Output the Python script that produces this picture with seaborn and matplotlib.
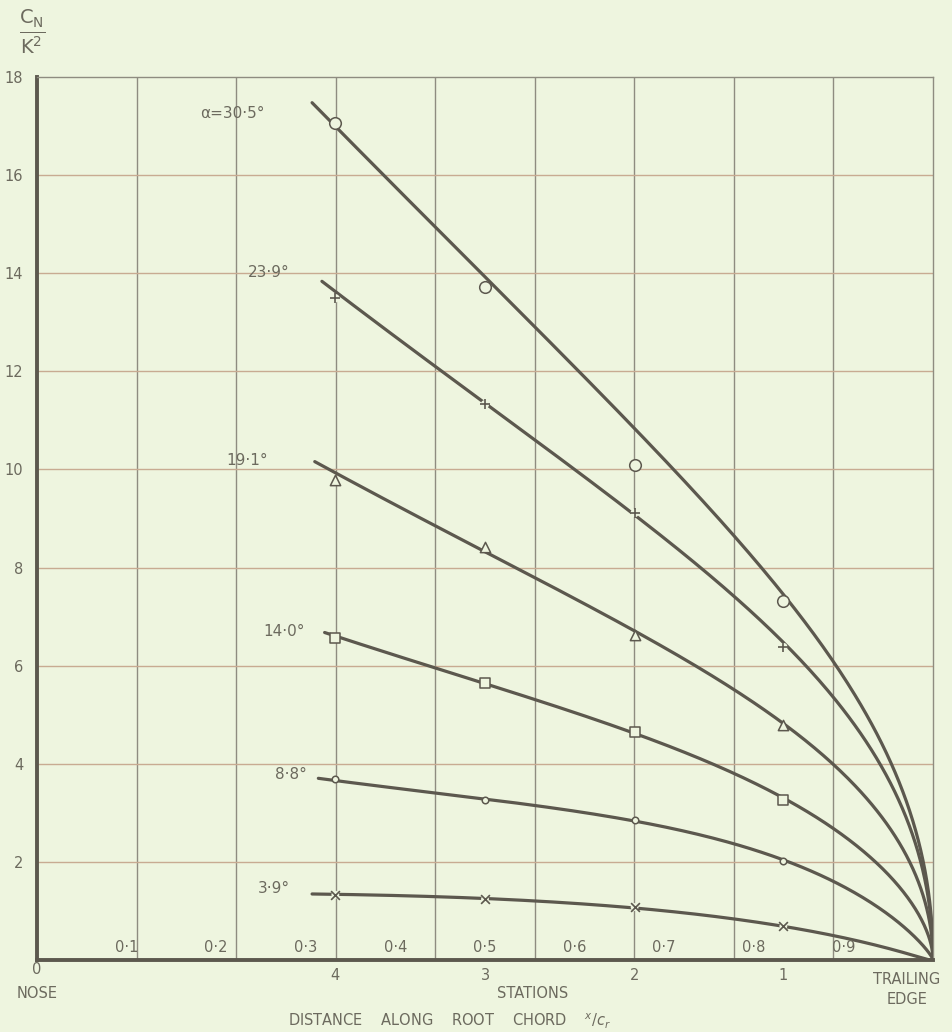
import numpy as np
import pandas as pd
import matplotlib
matplotlib.use("Agg")
import matplotlib.pyplot as plt
import seaborn as sns

# ---- data -------------------------------------------------------------
# chordwise stations (x / c_r) at which pressures were measured
station_xc = [0.333, 0.5, 0.667, 0.833]
station_labels = ["4", "3", "2", "1"]

# chord fraction labels written along the base of the grid
chord_ticks = [0.1, 0.2, 0.3, 0.4, 0.5, 0.6, 0.7, 0.8, 0.9]
chord_tick_labels = ["0·1", "0·2", "0·3", "0·4", "0·5", "0·6", "0·7", "0·8", "0·9"]

y_ticks = [2, 4, 6, 8, 10, 12, 14, 16, 18]

incidence_labels = ["α=30·5°", "23·9°", "19·1°", "14·0°", "8·8°", "3·9°"]

# measured C_N / K^2 at stations 4, 3, 2, 1
cn_30_5 = [17.06, 13.72, 10.09, 7.32]
cn_23_9 = [13.49, 11.33, 9.11, 6.38]
cn_19_1 = [9.78, 8.42, 6.62, 4.79]
cn_14_0 = [6.56, 5.64, 4.65, 3.27]
cn_8_8 = [3.69, 3.26, 2.85, 2.02]
cn_3_9 = [1.33, 1.24, 1.08, 0.69]

# faired curves, read along the chord out to the trailing edge
fair_30_5_x = [0.307, 0.500, 0.561, 0.662, 0.779, 0.834, 0.892, 0.950, 1.0]
fair_30_5_y = [17.49, 13.85, 12.84, 11.00, 8.62, 7.34, 6.05, 4.14, 0.0]
fair_23_9_x = [0.318, 0.500, 0.667, 0.835, 0.911, 0.950, 1.0]
fair_23_9_y = [13.84, 11.33, 9.11, 6.38, 4.89, 3.67, 0.0]
fair_19_1_x = [0.310, 0.500, 0.561, 0.670, 0.835, 0.892, 0.950, 1.0]
fair_19_1_y = [10.15, 8.38, 7.70, 6.66, 4.79, 3.97, 2.71, 0.0]
fair_14_0_x = [0.321, 0.500, 0.561, 0.668, 0.835, 0.892, 0.950, 1.0]
fair_14_0_y = [6.68, 5.64, 5.24, 4.65, 3.30, 2.59, 1.77, 0.0]
fair_8_8_x = [0.314, 0.500, 0.628, 0.670, 0.837, 0.892, 0.950, 1.0]
fair_8_8_y = [3.71, 3.26, 2.95, 2.85, 2.04, 1.51, 0.96, 0.0]
fair_3_9_x = [0.307, 0.498, 0.665, 0.835, 0.893, 0.949, 1.0]
fair_3_9_y = [1.35, 1.24, 1.08, 0.69, 0.45, 0.26, 0.0]

# where each incidence is written (x / c_r, C_N / K^2), right-aligned
label_x = [0.254, 0.282, 0.258, 0.299, 0.301, 0.282]
label_y = [17.26, 14.02, 10.19, 6.70, 3.79, 1.45]

# ---- style ------------------------------------------------------------
BG = "#eef5df"
INK = "#5c584e"
TEXT = "#6c6a5e"
VGRID = "#8e8c80"
HGRID = "#c8ab92"

sns.set_theme(style="white", rc={"axes.facecolor": BG, "figure.facecolor": BG})
plt.rcParams["font.family"] = ["DejaVu Sans"]

fig = plt.figure(figsize=(9.52, 10.32), dpi=100)
W, H = 952, 1032
x0, x1, y0, y1 = 37, 933, 960, 77
ax = fig.add_axes([x0 / W, 1 - y0 / H, (x1 - x0) / W, (y0 - y1) / H])
ax.set_xlim(0, 1)
ax.set_ylim(0, 18)

# grid: chord divided in ninths, C_N/K^2 every 2
for k in range(1, 9):
    ax.axvline(k / 9, color=VGRID, lw=1.0, zorder=1)
for v in y_ticks[:-1]:
    ax.axhline(v, color=HGRID, lw=1.0, zorder=1)

for side in ("left", "bottom"):
    ax.spines[side].set_linewidth(2.8)
    ax.spines[side].set_color(INK)
for side in ("top", "right"):
    ax.spines[side].set_linewidth(1.0)
    ax.spines[side].set_color(VGRID)

ax.set_yticks(y_ticks)
ax.set_yticklabels([str(v) for v in y_ticks])
ax.tick_params(axis="y", length=0, pad=10, labelsize=10.5, labelcolor=TEXT)
ax.set_xticks(chord_ticks)
ax.set_xticklabels([])
ax.tick_params(axis="x", direction="in", length=5, width=1.0, color=VGRID)


def faired(xs, ys, n=300):
    """Smooth curve through the faired ordinates, using s = sqrt(1 - x)
    so the curve closes onto the trailing edge with a vertical tangent."""
    xs = np.asarray(xs, float)
    ys = np.asarray(ys, float)
    s = np.sqrt(1 - xs)
    basis = np.vstack([s, s ** 2, s ** 3, s ** 4]).T
    coef, *_ = np.linalg.lstsq(basis, ys, rcond=None)
    ss = np.linspace(s.max(), 0, n)
    xx = 1 - ss ** 2
    yy = np.vstack([ss, ss ** 2, ss ** 3, ss ** 4]).T @ coef
    return xx, yy


curves = [
    (fair_30_5_x, fair_30_5_y),
    (fair_23_9_x, fair_23_9_y),
    (fair_19_1_x, fair_19_1_y),
    (fair_14_0_x, fair_14_0_y),
    (fair_8_8_x, fair_8_8_y),
    (fair_3_9_x, fair_3_9_y),
]
frames = []
for name, (cx, cy) in zip(incidence_labels, curves):
    xx, yy = faired(cx, cy)
    frames.append(pd.DataFrame({"x": xx, "y": yy, "series": name}))
df = pd.concat(frames, ignore_index=True)

sns.lineplot(data=df, x="x", y="y", hue="series", units="series",
             estimator=None, sort=False, legend=False,
             palette={n: INK for n in incidence_labels},
             lw=2.3, ax=ax, zorder=3)

# measured points
values = [cn_30_5, cn_23_9, cn_19_1, cn_14_0, cn_8_8, cn_3_9]
markers = ["o", "+", "^", "s", "o", "x"]
sizes = [70, 45, 55, 45, 22, 40]
for vals, m, sz in zip(values, markers, sizes):
    pts = pd.DataFrame({"x": station_xc, "y": vals})
    if m in ("+", "x"):
        sns.scatterplot(data=pts, x="x", y="y", marker="o", s=sz * 0.8,
                        color=BG, edgecolor="none", ax=ax, zorder=4)
        sns.scatterplot(data=pts, x="x", y="y", marker=m, s=sz,
                        color=INK, linewidth=1.2, ax=ax, zorder=5)
    else:
        sns.scatterplot(data=pts, x="x", y="y", marker=m, s=sz,
                        facecolor=BG, edgecolor=INK, linewidth=1.1,
                        ax=ax, zorder=5)

ax.set_xlabel("")
ax.set_ylabel("")

# incidence labels
for txt, lx, ly in zip(incidence_labels, label_x, label_y):
    ax.text(lx, ly, txt, ha="right", va="center", fontsize=11, color=TEXT)

# chord fractions along the base
for cx, ct in zip(chord_ticks, chord_tick_labels):
    ax.text(cx, 0.25, ct, ha="center", va="center", fontsize=10.5, color=TEXT)

# captions below the axis
trans = ax.get_xaxis_transform()


def below(px):
    return -(px - y0) / (y0 - y1)


for sx, sl in zip(station_xc, station_labels):
    ax.text(sx, below(975), sl, ha="center", va="center", fontsize=10.5,
            color=TEXT, transform=trans, clip_on=False)
ax.text(0.0, below(970), "0", ha="center", va="center", fontsize=10.5,
        color=TEXT, transform=trans, clip_on=False)
ax.text(0.0, below(993), "NOSE", ha="center", va="center", fontsize=10.5,
        color=TEXT, transform=trans, clip_on=False)
ax.text(0.553, below(994), "STATIONS", ha="center", va="center",
        fontsize=10.5, color=TEXT, transform=trans, clip_on=False)
ax.text(0.460, below(1021), "DISTANCE    ALONG    ROOT    CHORD    $^{x}/c_{r}$",
        ha="center", va="center", fontsize=10.5, color=TEXT,
        transform=trans, clip_on=False)
ax.text(0.971, below(979), "TRAILING", ha="center", va="center",
        fontsize=10.5, color=TEXT, transform=trans, clip_on=False)
ax.text(0.971, below(1000), "EDGE", ha="center", va="center",
        fontsize=10.5, color=TEXT, transform=trans, clip_on=False)

# ordinate caption
fig.text(32 / W, 1 - 32 / H, r"$\frac{\mathregular{C_N}}{\mathregular{K^2}}$",
         ha="center", va="center", fontsize=20, color=TEXT)

fig.savefig("out.png", dpi=100, facecolor=BG)
